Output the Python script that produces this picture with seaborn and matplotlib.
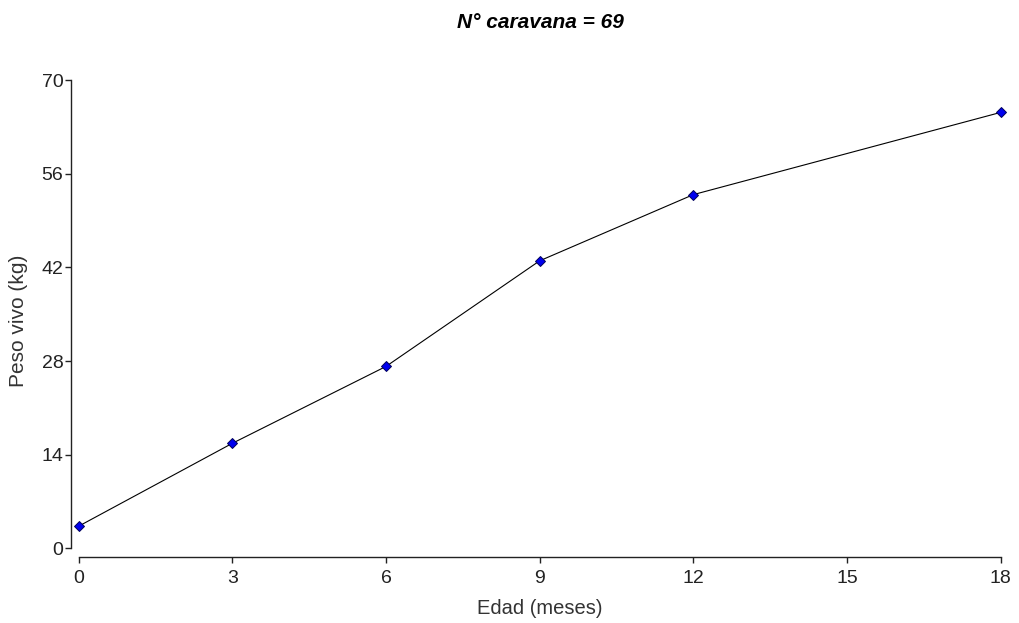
import matplotlib
matplotlib.use("Agg")
import matplotlib.pyplot as plt
import seaborn as sns
import pandas as pd

edad = [0, 3, 6, 9, 12, 18]
peso = [3.3, 15.7, 27.2, 43.0, 52.9, 65.2]
x_ticks = [0, 3, 6, 9, 12, 15, 18]
y_ticks = [0, 14, 28, 42, 56, 70]
titulo = "N° caravana = 69"
x_label = "Edad (meses)"
y_label = "Peso vivo (kg)"

sns.set_theme(style="ticks")
plt.rcParams['font.family'] = ['Liberation Sans', 'DejaVu Sans']

df = pd.DataFrame({"edad": edad, "peso": peso})

fig = plt.figure(figsize=(10.19, 6.23), dpi=100)
ax = fig.add_axes([78.6 / 1019, (623 - 548.3) / 623, (1000.7 - 78.6) / 1019, (548.3 - 80.3) / 623])

sns.lineplot(data=df, x="edad", y="peso", ax=ax, color="black", linewidth=0.8,
             marker="D", markersize=5, markerfacecolor="#0000ee",
             markeredgecolor="#00005a", markeredgewidth=0.7, clip_on=False)

ax.set_xlim(0, 18)
ax.set_ylim(0, 70)
ax.set_xticks(x_ticks)
ax.set_yticks(y_ticks)
ax.set_xticklabels([str(t) for t in x_ticks])
ax.set_yticklabels([str(t) for t in y_ticks])

for s in ["top", "right"]:
    ax.spines[s].set_visible(False)
ax.spines["left"].set_position(("outward", 5.5))
ax.spines["bottom"].set_position(("outward", 6.3))
for s in ["left", "bottom"]:
    ax.spines[s].set_color("#222222")
    ax.spines[s].set_linewidth(1.0)
ax.spines["left"].set_bounds(0, 70)
ax.spines["bottom"].set_bounds(0, 18)

ax.tick_params(axis="both", length=4, width=1.0, color="#222222",
               labelsize=14, labelcolor="#222222", pad=1.5)
ax.tick_params(axis="x", pad=5)

ax.set_xlabel("")
ax.set_ylabel("")
fig.text(540 / 1019, 1 - 608 / 623, x_label, ha="center", va="center",
         fontsize=14.5, color="#333333")
fig.text(19 / 1019, 1 - 321 / 623, y_label, ha="center", va="center",
         rotation=90, fontsize=15, color="#333333")
fig.text(540 / 1019, 1 - 22 / 623, titulo, ha="center", va="center",
         fontsize=15, fontweight="bold", fontstyle="italic", color="black")

fig.savefig("out.png", dpi=100, facecolor="white")
